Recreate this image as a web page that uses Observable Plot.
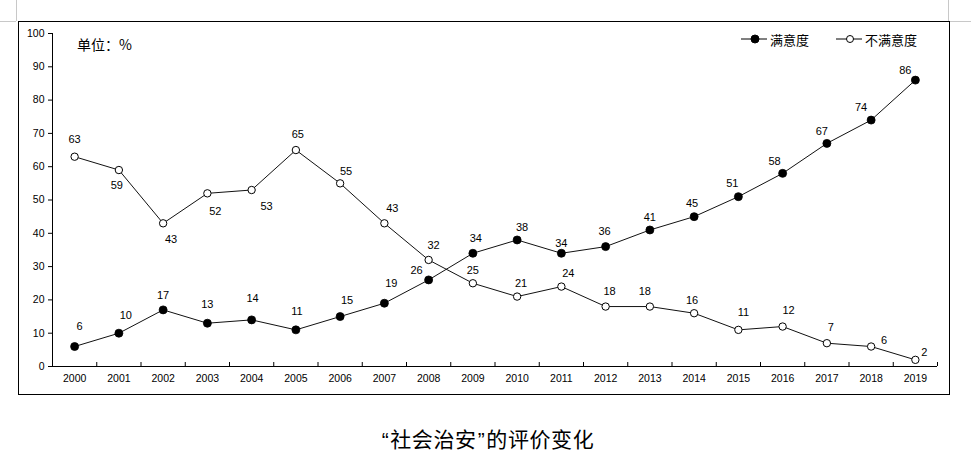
<!DOCTYPE html>
<html>
<head>
<meta charset="utf-8">
<script src="https://cdn.jsdelivr.net/npm/d3@7"></script>
<script src="https://cdn.jsdelivr.net/npm/@observablehq/plot@0.6"></script>
<style>
  html, body { margin: 0; padding: 0; background: #fff; }
  #wrap { position: relative; width: 975px; height: 470px; overflow: hidden; font-family: "Liberation Sans", Arial, sans-serif; }
  #chart { position: absolute; left: 0; top: 0; }
  #frame { position: absolute; left: 18px; top: 21px; width: 930px; height: 372px; border: 1px solid #000; pointer-events: none; }
  .gray { position: absolute; background: #c8c8c8; }
  #unit { position: absolute; left: 77px; top: 34px; font-family: "Noto Sans CJK SC", sans-serif; font-size: 14px; line-height: 20px; color: #000; }
  .leg { position: absolute; top: 29px; height: 20px; display: flex; align-items: center; font-family: "Noto Sans CJK SC", sans-serif; font-size: 13px; color: #000; }
  .leg svg { margin-right: 3px; }
  #title { position: absolute; left: 0; width: 975px; top: 424px; height: 28px; line-height: 28px; text-align: center; font-family: "Noto Sans CJK SC", sans-serif; font-size: 21px; letter-spacing: 0.6px; color: #000; }
  #title .q { font-family: "Liberation Sans", Arial, sans-serif; padding: 0 1px; }
</style>
</head>
<body>
<div id="wrap">
  <div class="gray" style="left:16px;top:0;width:1px;height:21px"></div>
  <div class="gray" style="left:0;top:21px;width:16px;height:1px"></div>
  <div class="gray" style="left:948px;top:0;width:1px;height:21px"></div>
  <div class="gray" style="left:949px;top:21px;width:22px;height:1px"></div>
  <div id="chart"></div>
  <div id="frame"></div>
  <div id="unit"></div>
  <div class="leg" id="leg1" style="left:741px"></div>
  <div class="leg" id="leg2" style="left:836px"></div>
  <div id="title"></div>
</div>
<script>
// ---- data ----
const years = [2000, 2001, 2002, 2003, 2004, 2005, 2006, 2007, 2008, 2009,
               2010, 2011, 2012, 2013, 2014, 2015, 2016, 2017, 2018, 2019];
const satisfied    = [6, 10, 17, 13, 14, 11, 15, 19, 26, 34, 38, 34, 36, 41, 45, 51, 58, 67, 74, 86];
const dissatisfied = [63, 59, 43, 52, 53, 65, 55, 43, 32, 25, 21, 24, 18, 18, 16, 11, 12, 7, 6, 2];
const yTicks = [0, 10, 20, 30, 40, 50, 60, 70, 80, 90, 100];
const seriesNames = ["满意度", "不满意度"];
const unitText = "单位：%";
const titleText = "“社会治安”的评价变化";

// ---- label placement (pixel offsets from each point) ----
const satLabelOffsets = [[5,-20],[7,-18],[0,-14],[0,-19],[1,-21],[1,-18],[7,-16],[7,-20],[-12,-9],[3,-15],
                         [5,-12],[0,-10],[-1,-15],[0,-13],[-2,-13],[-6,-13],[-8,-12],[-5,-12],[-10,-13],[-10,-10]];
const disLabelOffsets = [[0,-17],[-2,15],[8,16],[8,18],[15,16],[2,-16],[6,-12],[8,-15],[5,-14],[0,-13],
                         [4,-13],[7,-13],[4,-15],[-5,-15],[-2,-13],[5,-17],[6,-16],[4,-16],[13,-6],[9,-7]];

const satData = years.map((yr, i) => ({year: yr, value: satisfied[i]}));
const disData = years.map((yr, i) => ({year: yr, value: dissatisfied[i]}));
const boundaries = years.map(yr => yr - 0.5).concat([years[years.length - 1] + 0.5]);

const labelMarks = [];
satData.forEach((d, i) => {
  labelMarks.push(Plot.text([d], {x: "year", y: "value", text: d => String(d.value),
    dx: satLabelOffsets[i][0], dy: satLabelOffsets[i][1], fontSize: 11, fill: "#000"}));
});
disData.forEach((d, i) => {
  labelMarks.push(Plot.text([d], {x: "year", y: "value", text: d => String(d.value),
    dx: disLabelOffsets[i][0], dy: disLabelOffsets[i][1], fontSize: 11, fill: "#000"}));
});

const chart = Plot.plot({
  width: 975,
  height: 400,
  marginLeft: 52,
  marginRight: 38,
  marginTop: 33,
  marginBottom: 34,
  style: {fontFamily: "'Liberation Sans', Arial, sans-serif", fontSize: "10.5px", color: "#000", background: "transparent"},
  x: {type: "linear", domain: [years[0] - 0.5, years[years.length - 1] + 0.5]},
  y: {domain: [0, 100]},
  marks: [
    Plot.axisY({ticks: yTicks, tickSize: 4, tickPadding: 4, tickFormat: d => String(d), label: null, fontSize: 10.5}),
    Plot.axisX({ticks: years, tickSize: 0, tickPadding: 8, tickFormat: d => String(d), label: null, fontSize: 10.5}),
    Plot.ruleX(boundaries, {y1: 0, y2: 1.2, stroke: "#000"}),
    Plot.ruleY([0], {stroke: "#000"}),
    Plot.ruleX([years[0] - 0.5], {stroke: "#000"}),
    Plot.line(satData, {x: "year", y: "value", stroke: "#111", strokeWidth: 1}),
    Plot.line(disData, {x: "year", y: "value", stroke: "#111", strokeWidth: 1}),
    Plot.dot(satData, {x: "year", y: "value", r: 4, fill: "#000", stroke: "#000", strokeWidth: 0.8}),
    Plot.dot(disData, {x: "year", y: "value", r: 3.7, fill: "#fff", stroke: "#000", strokeWidth: 1}),
    ...labelMarks
  ]
});
document.getElementById("chart").appendChild(chart);

document.getElementById("unit").textContent = unitText;

// title: render curly quotes in a Latin font so they stay narrow, as in the reference
const titleEl = document.getElementById("title");
for (const ch of titleText) {
  if (ch === "“" || ch === "”") {
    const s = document.createElement("span");
    s.className = "q";
    s.textContent = ch;
    titleEl.appendChild(s);
  } else {
    titleEl.appendChild(document.createTextNode(ch));
  }
}

function legendItem(el, filled, name) {
  el.innerHTML = `<svg width="26" height="10" viewBox="0 0 26 10"><line x1="0" y1="5" x2="26" y2="5" stroke="#000" stroke-width="1"/>` +
    `<circle cx="14" cy="5" r="${filled ? 4 : 3.5}" fill="${filled ? '#000' : '#fff'}" stroke="#000" stroke-width="1"/></svg>` +
    `<span>${name}</span>`;
}
legendItem(document.getElementById("leg1"), true, seriesNames[0]);
legendItem(document.getElementById("leg2"), false, seriesNames[1]);
</script>
</body>
</html>
